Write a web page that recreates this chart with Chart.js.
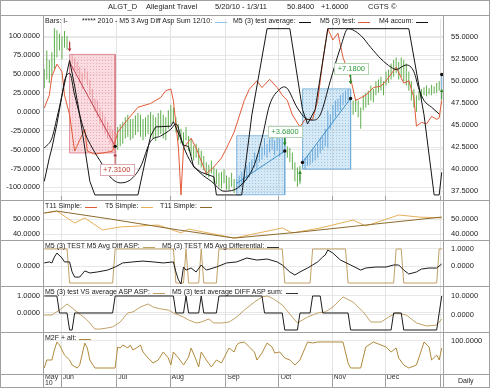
<!DOCTYPE html>
<html>
<head>
<meta charset="utf-8">
<title>ALGT_D Allegiant Travel</title>
<script src="https://cdn.jsdelivr.net/npm/chart.js@4.4.1/dist/chart.umd.min.js"></script>
<style>
  body { margin: 0; background: #fff; }
  #wrap { position: relative; width: 490px; height: 388px; overflow: hidden; background: #fff;
          font-family: "Liberation Sans", Arial, sans-serif; color: #222; }
  .pane { position: absolute; left: 0; }
  .pane canvas { display: block; }
  .hl { position: absolute; left: 0; width: 490px; height: 1px; background: #a0a0a0; }
  .vl { position: absolute; top: 15px; width: 1px; height: 373px; background: #a0a0a0; }
  .frame { position: absolute; left: 0; top: 0; width: 490px; height: 388px; box-sizing: border-box;
           border: 1px solid #a0a0a0; pointer-events: none; }
  .txt { position: absolute; white-space: nowrap; font-size: 7px; line-height: 8px; }
  .title { font-size: 7.5px; }
  .key { display: inline-block; width: 12px; height: 5px; border-bottom: 1px solid; margin-left: 3px; vertical-align: top; }
</style>
</head>
<body>
<div id="wrap">
  <div class="pane" style="top:15px"><canvas id="pMain" width="490" height="185"></canvas></div>
  <div class="pane" style="top:200px"><canvas id="pT" width="490" height="40"></canvas></div>
  <div class="pane" style="top:240px"><canvas id="pDiff" width="490" height="46"></canvas></div>
  <div class="pane" style="top:286px"><canvas id="pVs" width="490" height="46"></canvas></div>
  <div class="pane" style="top:332px"><canvas id="pM2f" width="490" height="56"></canvas></div>
  <div id="overlay"></div>
</div>
<script>
// ---- time axis: trading days 5/20/10 .. 1/3/11, one index per bar
const monthTicks = [-0.5, 6.5, 28.5, 49.5, 71.5, 92.5, 113.5, 134.5, 156.5];
const monthNames = ['May', 'Jun', 'Jul', 'Aug', 'Sep', 'Oct', 'Nov', 'Dec', ''];
const monthEdges = monthTicks.slice(1);
const yearLabel = '10';

// ---- price bars (right axis of the main pane)
const barHigh = [51.4,53.5,52.4,53.3,56.0,55.8,55.4,55.1,55.7,55.1,54.6,53.0,52.6,52.2,51.6,50.9,51.5,51.1,50.2,49.1,
  48.0,47.8,47.0,46.5,46.0,45.4,44.9,44.5,44.0,44.8,45.1,45.4,45.9,46.2,45.7,45.7,46.1,46.4,46.2,45.7,
  45.9,46.2,46.5,46.2,45.9,46.4,46.7,46.2,45.9,46.7,47.3,47.0,45.9,45.1,44.6,44.2,44.8,43.8,43.5,42.7,
  42.9,42.4,42.1,41.5,40.8,40.5,41.0,40.2,40.0,39.6,39.7,40.0,39.3,39.1,39.6,38.9,38.9,39.3,39.7,40.0,
  40.4,40.8,41.1,41.9,41.6,42.4,42.6,43.5,42.9,43.5,43.8,43.3,43.7,43.5,43.8,43.5,42.6,42.4,41.9,40.8,
  40.2,40.4,41.5,41.3,41.6,41.8,42.2,42.4,42.9,43.5,43.7,44.6,46.7,46.2,47.3,47.8,48.0,48.4,48.7,48.9,
  49.1,48.9,47.8,48.0,47.8,47.0,48.4,48.7,48.9,49.5,49.1,50.0,50.2,50.5,50.0,51.1,51.3,52.0,52.4,52.7,
  52.2,52.7,52.4,52.0,51.1,50.0,49.1,48.4,48.9,49.1,49.3,49.5,49.2,49.6,49.4,49.8,50.0,50.7];
const barLow = [49.2,50.2,49.8,50.5,51.4,52.7,53.5,52.5,53.8,53.6,53.8,52.0,51.3,50.9,49.8,49.1,50.2,49.5,48.4,47.5,
  46.5,45.9,45.2,44.6,44.0,43.5,42.9,42.4,42.1,42.2,42.6,42.9,43.5,43.7,43.3,43.5,43.9,44.2,43.7,43.3,
  43.7,44.0,43.7,43.5,43.2,43.8,44.0,43.5,43.3,44.6,45.1,45.4,44.2,43.3,42.9,42.7,43.3,42.1,41.5,41.0,
  41.3,40.5,40.2,39.9,39.3,39.1,39.5,38.4,38.3,38.0,37.8,38.4,37.7,37.6,38.0,37.3,37.5,37.8,38.0,38.4,
  38.8,39.1,39.5,40.2,40.0,40.8,41.1,41.6,41.3,41.9,42.2,41.6,42.1,41.5,41.9,42.1,41.3,40.8,40.0,38.6,
  38.0,38.3,40.2,40.0,40.4,40.5,40.8,41.0,41.3,41.8,42.2,42.6,42.4,44.6,45.4,45.9,46.5,46.7,47.3,47.5,
  47.8,47.8,46.2,46.5,45.9,44.6,46.7,47.0,47.3,47.8,47.6,48.4,48.7,48.9,48.4,49.5,49.8,50.2,50.5,50.9,
  50.2,50.5,50.0,49.5,48.9,47.8,47.0,46.5,47.8,48.0,48.4,48.3,48.5,48.4,48.6,48.7,48.9,49.1];
const extraBlue = [157];

// ---- swing boxes with their trend lines (price scale)
const boxStart = [10, 76, 102];
const boxEnd = [28, 95, 121];
const boxTop = [53.04, 43.8, 49.13];
const boxBottom = [41.85, 37.1, 40.0];
const trendStart = [52.17, 38.4, 40.76];
const trendEnd = [42.6, 42.07, 48.04];
const boxTone = ['red', 'blue', 'blue'];

// ---- signal tags, arrows and dots (price scale)
const tagAt = [28.6, 95.1, 121.3];
const tagPrice = [40.0, 44.24, 51.41];
const tagText = ['+7.3100', '+3.6800', '+7.1800'];
const tagTone = ['red', 'green', 'green'];
const arrowAt = [10, 28, 95, 101, 121, 157];
const arrowFrom = [54.4, 40.6, 43.8, 38.6, 50.9, 47.9];
const arrowTo = [53.6, 41.6, 42.9, 39.6, 49.9, 48.9];
const arrowTone = ['red', 'red', 'green', 'green', 'green', 'green'];
const dotAt = [28, 95, 102, 121, 157];
const dotPrice = [42.6, 42.07, 40.76, 48.04, 50.76];

// ---- main pane indicators (left axis), [bar index, value]
const testAverage = [[0,-48],[3,-35],[5,-8],[7,22],[8,41],[10,51],[12,22],[16,-27],[19,-48],[23,-70],[26,-86],[30,-94],
  [34,-90],[38,-73],[42,-39],[46,-32],[50,-23],[52,-16],[55,-46],[58,-67],[62,-82],[66,-92],[71,-105],[77,-99],
  [83,-70],[86,-35],[89,9],[93,30],[95,33],[100,5],[103,-8],[106,-11],[109,-4],[113,41],[117,85],[120,110],
  [125,101],[129,85],[133,70],[137,59],[139,56],[143,62],[146,53],[148,30],[150,15],[153,6],[156,-3]];
const m4Accum = [[0,-92],[2,-61],[3,-48],[5,-16],[7,22],[10,68],[12,34],[14,-4],[18,-92],[20,-110],[37,-110],[42,-32],
  [44,-20],[50,-19],[51,-13],[55,-44],[57,-46],[59,-73],[62,-80],[67,-86],[68,-110],[78,-110],[82,-4],[88,110],
  [97,110],[102,3],[104,-16],[107,3],[112,110],[144,110],[150,-4],[154,-110],[156,-110],[157,-80]];
const testLine = [[0,5],[2,22],[3,47],[5,63],[7,53],[8,22],[9,9],[10,-4],[12,-52],[16,-23],[17,-52],[20,-56],[24,-54],
  [27,-52],[29,-27],[33,-10],[37,6],[42,11],[46,19],[48,28],[50,30],[51,15],[53,-48],[54,-110],[55,-48],[58,-35],
  [60,-48],[62,-65],[64,-82],[67,-73],[70,-61],[72,-48],[75,-27],[77,-6],[79,15],[81,30],[84,41],[86,32],[89,43],
  [92,32],[94,22],[96,15],[98,-4],[101,-20],[103,-10],[106,-10],[108,15],[110,66],[112,110],[114,95],[116,104],
  [118,72],[121,44],[123,15],[127,22],[130,32],[133,34],[135,41],[139,59],[142,38],[144,41],[146,19],[147,-19],
  [149,-14],[151,-16],[153,-6],[155,-10],[156,-8],[157,15]];

// ---- T11 / T5 simple pane
const t11Simple = [[0,54.0],[5,55.3],[26,50.0],[53,42.7],[75,37.3],[101,41.3],[127,46.0],[157,51.3]];
const t5Simple = [[0,54.0],[5,55.3],[12,47.3],[16,50.7],[23,42.7],[30,44.7],[45,46.0],[54,40.7],[57,43.3],[75,37.3],
  [94,44.0],[98,40.7],[109,44.0],[122,49.3],[127,45.3],[140,52.7],[148,51.3],[157,50.7]];

// ---- TEST M5 Avg Diff ASP / Differential pane
const avgDiffAsp = [[0,1],[9,1],[10,-1],[27,-1],[28,1],[51,1],[52,-1],[55,-1],[56,1],[57,-1],[61,-1],[62,1],[63,-1],
  [68,-1],[69,1],[94,1],[95,-1],[105,-1],[106,1],[119,1],[120,-1],[138,-1],[139,1],[141,1],[142,-1],[155,-1],[156,1],[157,1]];
const avgDifferential = [[0,0.18],[2,0.24],[3,0.18],[4,0.53],[5,0.76],[7,0.47],[8,0.24],[10,0.24],[11,-0.35],[12,-0.65],
  [14,-0.65],[16,-0.29],[18,-0.41],[21,-0.35],[25,-0.24],[28,-0.06],[31,0.18],[35,0.24],[39,0.29],[43,0.24],[47,0.18],
  [51,0.24],[52,-0.35],[53,-0.82],[54,-1.06],[55,-0.06],[56,-0.24],[58,-0.12],[60,-0.35],[62,0.06],[64,-0.24],[68,-0.06],
  [72,0.18],[76,0.24],[80,0.47],[84,0.35],[88,0.41],[92,0.24],[94,0.06],[97,-0.35],[99,-0.53],[101,-0.35],[104,-0.12],
  [106,0.06],[108,0.24],[110,0.53],[111,0.65],[112,0.94],[114,0.76],[117,0.35],[121,0.06],[125,-0.24],[127,-0.12],
  [131,-0.06],[135,-0.06],[138,0.06],[140,0.06],[142,-0.24],[144,-0.47],[147,-0.35],[149,-0.18],[152,-0.12],[155,-0.12],[157,0.12]];

// ---- test VS average / average DIFF ASP sum pane
const vsAverage = [[0,1],[5,1],[6,0],[9,0],[10,-1],[11,-1],[12,0],[27,0],[28,1],[51,1],[52,0],[55,0],[56,1],[57,0],
  [61,0],[62,1],[63,0],[68,0],[69,1],[86,1],[87,0],[94,0],[95,-1],[100,-1],[101,0],[105,0],[106,1],[109,1],[110,0],
  [120,0],[121,-1],[137,-1],[138,0],[141,0],[142,-1],[155,-1],[157,1]];
const diffAspSum = [[0,0],[3,0],[6,2.6],[9,5.8],[11,3.7],[13,1.6],[16,-1.6],[18,-4.2],[20,-7.4],[22,-7.4],[25,-6.8],
  [27,-6.3],[30,-3.7],[33,1.1],[35,1.6],[38,4.2],[41,5.8],[43,4.2],[46,3.2],[49,2.6],[51,1.1],[55,-1.1],[57,-2.6],
  [60,-4.2],[62,-3.7],[65,-2.1],[67,-4.2],[70,-4.2],[73,-3.7],[76,-1.1],[79,2.6],[83,6.8],[86,9.5],[88,10.0],[90,8.9],
  [94,5.3],[98,-1.1],[100,-4.2],[102,-2.6],[104,-1.1],[108,1.1],[111,1.6],[114,4.2],[118,9.5],[122,6.8],[126,1.6],
  [129,-3.7],[133,-3.7],[136,-1.1],[139,1.1],[143,0],[147,-4.2],[151,-5.8],[155,-5.3],[157,-2.1]];

// ---- M2F + alt pane
const m2fAlt = [[0,0],[1,29.6],[3,29.6],[4,66.7],[5,96.3],[6,85.2],[8,48.1],[10,29.6],[11,11.1],[13,0],[14,11.1],
  [16,92.6],[17,74.1],[18,29.6],[20,0],[28,0],[29,77.8],[30,74.1],[31,85.2],[33,74.1],[34,85.2],[35,66.7],[37,77.8],
  [38,85.2],[39,59.3],[41,37.0],[43,18.5],[45,29.6],[47,59.3],[49,37.0],[50,11.1],[51,59.3],[53,37.0],[55,11.1],
  [57,40.7],[58,74.1],[60,29.6],[61,3.7],[62,59.3],[64,29.6],[66,3.7],[68,29.6],[70,18.5],[71,37.0],[73,74.1],
  [75,59.3],[76,85.2],[77,92.6],[79,96.3],[81,77.8],[83,59.3],[84,29.6],[86,55.6],[88,92.6],[90,77.8],[91,55.6],
  [93,59.3],[95,37.0],[97,29.6],[99,11.1],[101,29.6],[103,74.1],[104,96.3],[106,92.6],[108,96.3],[118,96.3],
  [120,18.5],[121,0],[125,0],[127,77.8],[130,96.3],[133,85.2],[135,77.8],[137,59.3],[139,74.1],[140,37.0],[142,11.1],
  [144,0],[147,11.1],[149,66.7],[150,96.3],[152,77.8],[153,29.6],[155,48.1],[156,29.6],[157,74.1]];

// ------------------------------------------------------------------
Chart.defaults.font.family = '"Liberation Sans", Arial, sans-serif';
Chart.defaults.font.size = 7.5;
Chart.defaults.color = '#222';

const pts = arr => arr.map(([x, y]) => ({x, y}));
const tone = {
  red: {bar: '#ec9aa3', line: '#c4414f', edge: 'rgba(214,110,124,0.75)', fill: ['rgba(244,170,180,0.40)', 'rgba(220,120,135,0.5)']},
  blue: {bar: '#6aa9da', line: '#3b8fcb', edge: 'rgba(110,170,215,0.8)', fill: ['rgba(150,200,235,0.40)', 'rgba(95,160,210,0.45)']},
  green: '#5fae4c', greenArrow: '#2c8a2c', redArrow: '#b2333f'
};

function hatch(base, dot) {
  const c = document.createElement('canvas');
  c.width = 3; c.height = 3;
  const g = c.getContext('2d');
  g.fillStyle = base; g.fillRect(0, 0, 3, 3);
  g.fillStyle = dot; g.fillRect(0, 0, 1, 1);
  return g.createPattern(c, 'repeat');
}

function xAxis(show) {
  return {
    type: 'linear', min: -0.5, max: 157.5, offset: false, display: show,
    afterBuildTicks: s => { s.ticks = monthTicks.map(v => ({value: v})); },
    afterFit: s => { s.height = show ? 14 : 0; s.paddingLeft = 0; s.paddingRight = 0; },
    grid: {display: false, drawTicks: false},
    border: {display: false},
    ticks: {
      autoSkip: false, maxRotation: 0, minRotation: 0, align: 'start', padding: 0, color: '#333',
      font: {size: 7, lineHeight: 0.9},
      callback: (v, i) => i === 0 ? [' ' + monthNames[0], ' ' + yearLabel] : ' ' + monthNames[i]
    }
  };
}

function yAxis(pos, a) {
  return {
    type: 'linear', position: pos, min: a.min, max: a.max,
    afterBuildTicks: s => { s.ticks = a.ticks.map(v => ({value: v})); },
    afterFit: s => { s.width = pos === 'left' ? 43 : 47; s.paddingTop = 0; s.paddingBottom = 0; },
    grid: {display: a.grid !== false, color: '#e8e8e8', drawTicks: false},
    border: {display: false},
    ticks: {padding: pos === 'left' ? 3 : 8, color: '#222', font: {size: 7.5}, callback: v => v.toFixed(4)}
  };
}

// month separators inside each pane, darker in the date strip
const monthGrid = {
  id: 'monthGrid',
  beforeDatasetsDraw(chart) {
    const {ctx, chartArea: a} = chart;
    const x = chart.scales.x;
    ctx.save();
    ctx.lineWidth = 1;
    monthEdges.forEach(v => {
      const px = Math.round(x.getPixelForValue(v)) + 0.5;
      ctx.strokeStyle = '#e3e3e3';
      ctx.beginPath(); ctx.moveTo(px, a.top); ctx.lineTo(px, a.bottom); ctx.stroke();
      if (chart.height > a.bottom + 2) {
        ctx.strokeStyle = '#a0a0a0';
        ctx.beginPath(); ctx.moveTo(px, a.bottom); ctx.lineTo(px, chart.height); ctx.stroke();
      }
    });
    ctx.restore();
  }
};

// boxed gain labels over the price pane
const tagPlugin = {
  id: 'tags',
  afterDatasetsDraw(chart) {
    const {ctx} = chart;
    const x = chart.scales.x, y = chart.scales.yR;
    ctx.save();
    ctx.font = '7.5px "Liberation Sans", Arial, sans-serif';
    ctx.textAlign = 'center';
    ctx.textBaseline = 'middle';
    tagText.forEach((t, i) => {
      const cx = x.getPixelForValue(tagAt[i]);
      const cy = y.getPixelForValue(tagPrice[i]);
      const w = Math.round(ctx.measureText(t).width) + 7, h = 11;
      const l = Math.round(cx - w / 2) + 0.5, tp = Math.round(cy - h / 2) + 0.5;
      ctx.fillStyle = '#fff';
      ctx.fillRect(l, tp, w, h);
      ctx.strokeStyle = tagTone[i] === 'red' ? '#dcaab0' : '#b4d4b4';
      ctx.strokeRect(l, tp, w, h);
      ctx.fillStyle = tagTone[i] === 'red' ? '#c0392b' : '#2f9a3a';
      ctx.fillText(t, cx, cy + 0.5);
    });
    ctx.restore();
  }
};

function panel(id, cfg) {
  return new Chart(document.getElementById(id), {
    type: 'line',
    data: {datasets: cfg.datasets},
    options: {
      responsive: false, animation: false, events: [],
      layout: {padding: 0},
      plugins: {legend: {display: false}, tooltip: {enabled: false}},
      elements: {point: {radius: 0}, line: {borderWidth: 1, tension: 0}},
      scales: {x: xAxis(!!cfg.showX), yL: yAxis('left', cfg.left), yR: yAxis('right', cfg.right)}
    },
    plugins: [monthGrid].concat(cfg.plugins || [])
  });
}

// ---- main pane datasets
function barColor(i) {
  for (let b = 0; b < boxStart.length; b++) {
    if (i >= boxStart[b] && i <= boxEnd[b]) return tone[boxTone[b]].bar;
  }
  return extraBlue.includes(i) ? tone.blue.bar : tone.green;
}

const mainSets = [];
boxStart.forEach((s, b) => {
  const t = tone[boxTone[b]];
  mainSets.push({
    data: [{x: s, y: boxTop[b]}, {x: boxEnd[b], y: boxTop[b]}],
    fill: {value: boxBottom[b]}, backgroundColor: hatch(t.fill[0], t.fill[1]),
    borderWidth: 0, yAxisID: 'yR', order: 10
  });
  mainSets.push({
    data: [{x: s, y: boxBottom[b]}, {x: s, y: boxTop[b]}, {x: boxEnd[b], y: boxTop[b]},
           {x: boxEnd[b], y: boxBottom[b]}, {x: s, y: boxBottom[b]}],
    borderColor: t.edge, borderWidth: 1, fill: false, yAxisID: 'yR', order: 9
  });
  mainSets.push({
    data: [{x: s, y: trendStart[b]}, {x: boxEnd[b], y: trendEnd[b]}],
    borderColor: t.line, borderWidth: 1, yAxisID: 'yR', order: 5
  });
});
mainSets.push({
  type: 'bar',
  data: barHigh.map((h, i) => ({x: i, y: [barLow[i], h]})),
  backgroundColor: barHigh.map((h, i) => barColor(i)),
  barThickness: 1, inflateAmount: 0, grouped: false, borderWidth: 0, yAxisID: 'yR', order: 8
});
mainSets.push({data: pts(testLine), borderColor: '#e05a36', yAxisID: 'yL', order: 4});
mainSets.push({data: pts(m4Accum), borderColor: '#151515', yAxisID: 'yL', order: 3});
mainSets.push({data: pts(testAverage), borderColor: '#151515', cubicInterpolationMode: 'monotone', yAxisID: 'yL', order: 3});
arrowAt.forEach((at, i) => {
  const c = arrowTone[i] === 'red' ? tone.redArrow : tone.greenArrow;
  mainSets.push({
    data: [{x: at, y: arrowFrom[i]}, {x: at, y: arrowTo[i]}],
    borderColor: c, pointRadius: [0, 2.2], pointStyle: 'triangle',
    rotation: arrowTo[i] < arrowFrom[i] ? 180 : 0,
    pointBackgroundColor: c, pointBorderColor: c, pointBorderWidth: 0, yAxisID: 'yR', order: 1
  });
});
mainSets.push({
  data: dotAt.map((a, i) => ({x: a, y: dotPrice[i]})), showLine: false,
  pointRadius: 1.7, pointBackgroundColor: '#111', pointBorderWidth: 0, yAxisID: 'yR', order: 0
});

panel('pMain', {
  datasets: mainSets,
  left: {min: -111.39, max: 122.78, ticks: [-100, -75, -50, -25, 0, 25, 50, 75, 100]},
  right: {min: 36.957, max: 57.065, ticks: [37.5, 40, 42.5, 45, 47.5, 50, 52.5, 55]},
  plugins: [tagPlugin]
});

panel('pT', {
  datasets: [
    {data: pts(t11Simple), borderColor: '#8d6a2c', yAxisID: 'yL'},
    {data: pts(t5Simple), borderColor: '#e5b05a', yAxisID: 'yL'}
  ],
  left: {min: 36.0, max: 62.67, ticks: [40, 50]},
  right: {min: 36.0, max: 62.67, ticks: [40, 50]}
});

panel('pDiff', {
  datasets: [
    {data: pts(avgDifferential), borderColor: '#1c1c1c', yAxisID: 'yL'},
    {data: pts(avgDiffAsp), borderColor: '#c2a066', yAxisID: 'yR'}
  ],
  left: {min: -1.176, max: 1.529, ticks: [0]},
  right: {min: -1.176, max: 1.529, ticks: [0, 1]}
});

panel('pVs', {
  datasets: [
    {data: pts(vsAverage), borderColor: '#1c1c1c', yAxisID: 'yL'},
    {data: pts(diffAspSum), borderColor: '#c2a066', yAxisID: 'yR'}
  ],
  left: {min: -1.118, max: 1.588, ticks: [0, 1]},
  right: {min: -8.95, max: 15.26, ticks: [0, 10]}
});

panel('pM2f', {
  showX: true,
  datasets: [{data: pts(m2fAlt), borderColor: '#b08a3c', yAxisID: 'yR'}],
  left: {min: -22.2, max: 133.3, ticks: [], grid: false},
  right: {min: -22.2, max: 133.3, ticks: [100]}
});

// ---- frame, captions and pane headers
const overlay = document.getElementById('overlay');
function add(cls, style, html) {
  const d = document.createElement('div');
  d.className = cls;
  d.setAttribute('style', style);
  d.innerHTML = html;
  overlay.appendChild(d);
}
[15, 200, 240, 286, 332, 374].forEach(y => add('hl', 'top:' + y + 'px', ''));
[43, 443].forEach(x => add('vl', 'left:' + x + 'px', ''));
add('frame', '', '');

[['ALGT_D', 108], ['Allegiant Travel', 146], ['5/20/10 - 1/3/11', 215], ['50.8400', 287], ['+1.6000', 321], ['CGTS \u00a9', 368]]
  .forEach(([t, x]) => add('txt title', 'left:' + x + 'px;top:3px', t));

const headers = [
  [17, [['Bars: I-', null, 45], ['***** 2010 - M5 3 Avg Diff Asp Sum 12/10:', '#8ec5ea', 82],
        ['M5 (3) test average:', '#111', 233], ['M5 (3) test:', '#e05a36', 320], ['M4 accum:', '#111', 379]]],
  [202, [['T11 Simple:', '#e05a36', 45], ['T5 Simple:', '#e5b05a', 105], ['T11 Simple:', '#8d6a2c', 160]]],
  [242, [['M5 (3) TEST M5 Avg Diff ASP:', '#c2a066', 45], ['M5 (3) TEST M5 Avg Differential:', '#333', 162]]],
  [288, [['M5 (3) test VS average ASP ASP:', '#c2a066', 45], ['M5 (3) test average DIFF ASP sum:', '#333', 172]]],
  [334, [['M2F + alt:', '#b08a3c', 45]]]
];
headers.forEach(([top, items]) => items.forEach(([t, c, x]) => {
  const key = c ? '<span class="key" style="border-color:' + c + '"></span>' : '';
  add('txt', 'left:' + x + 'px;top:' + top + 'px', t + key);
}));
add('txt', 'left:458px;top:377px;font-size:7px', 'Daily');
</script>
</body>
</html>
